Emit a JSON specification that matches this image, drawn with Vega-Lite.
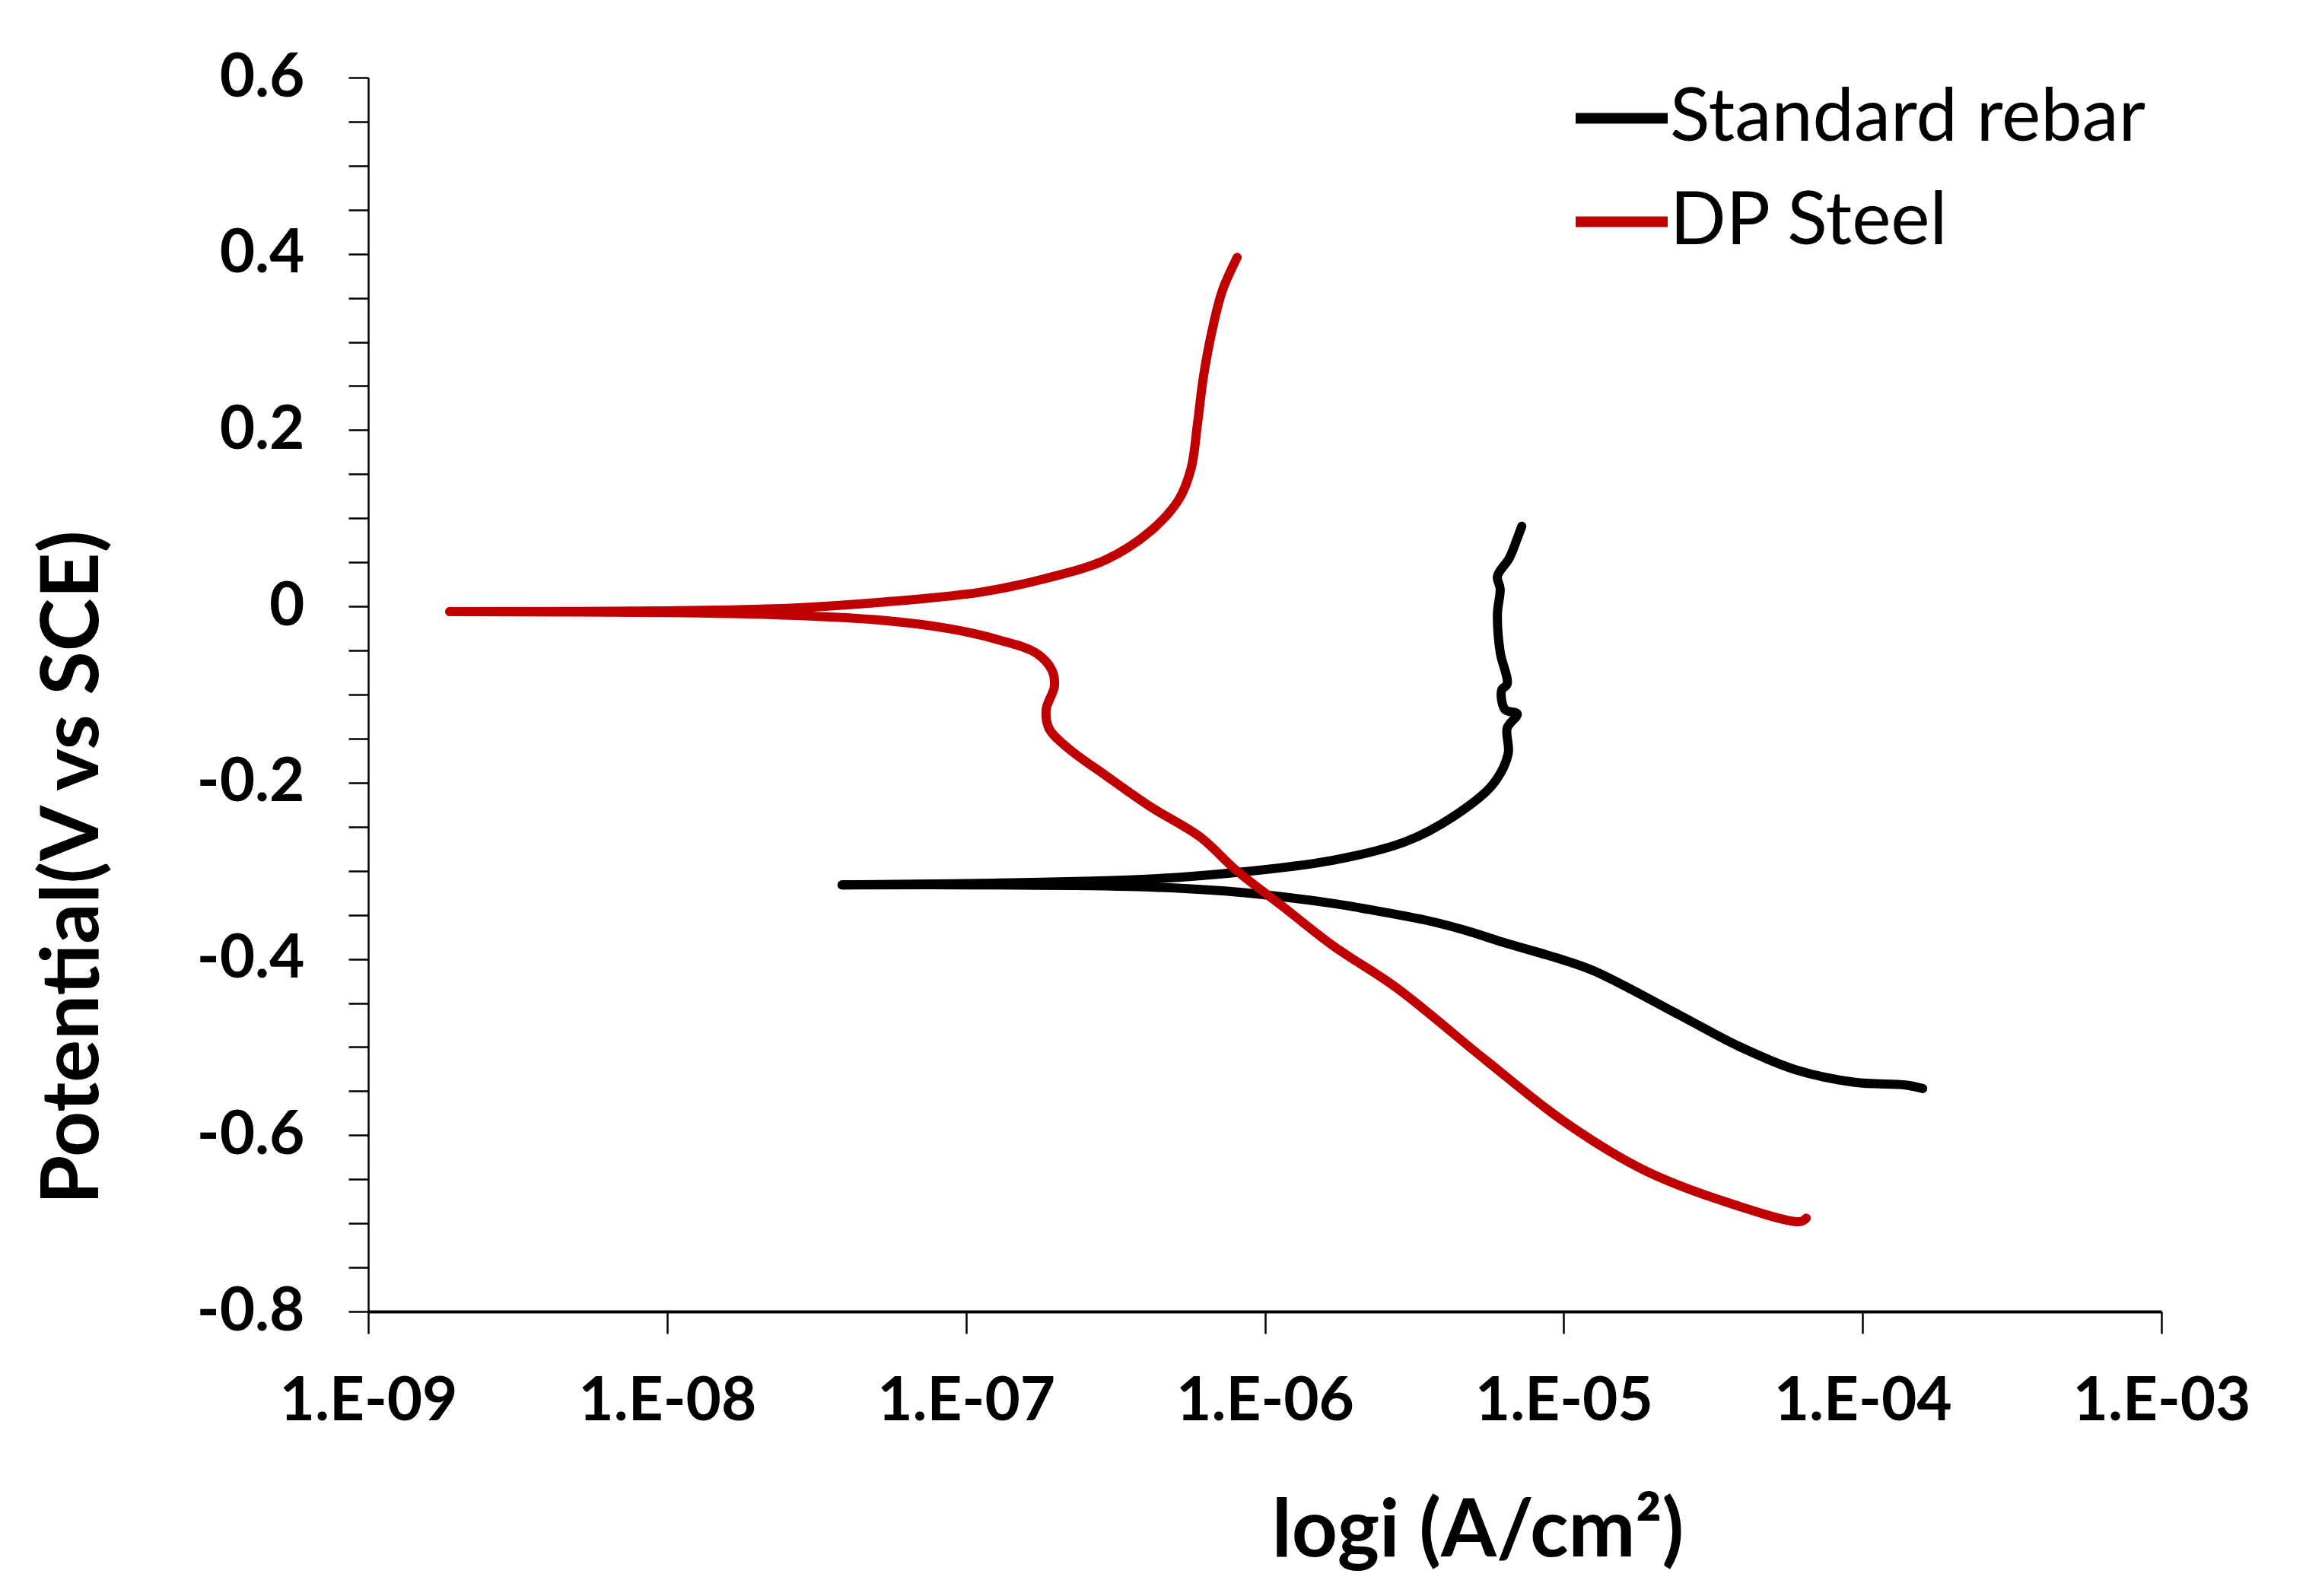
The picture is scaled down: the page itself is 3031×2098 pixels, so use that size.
{
  "$schema": "https://vega.github.io/schema/vega-lite/v6.json",
  "autosize": {"type": "none"},
  "padding": {"left": 484, "top": 102, "right": 190, "bottom": 374},
  "width": 2357,
  "height": 1622,
  "background": "white",
  "config": {
    "font": "Lato",
    "view": {"stroke": null},
    "axis": {"grid": false, "domainColor": "#000000", "tickColor": "#000000", "labelColor": "#000000", "titleColor": "#000000"}
  },
  "data": {"values": [
    {"s": "Standard rebar", "b": "c", "o": 1, "i": 1.589e-4, "E": -0.547},
    {"s": "Standard rebar", "b": "c", "o": 2, "i": 1.390e-4, "E": -0.543},
    {"s": "Standard rebar", "b": "c", "o": 3, "i": 9.42e-5, "E": -0.540},
    {"s": "Standard rebar", "b": "c", "o": 4, "i": 6.00e-5, "E": -0.526},
    {"s": "Standard rebar", "b": "c", "o": 5, "i": 3.85e-5, "E": -0.499},
    {"s": "Standard rebar", "b": "c", "o": 6, "i": 2.45e-5, "E": -0.464},
    {"s": "Standard rebar", "b": "c", "o": 7, "i": 1.27e-5, "E": -0.414},
    {"s": "Standard rebar", "b": "c", "o": 8, "i": 9.71e-6, "E": -0.400},
    {"s": "Standard rebar", "b": "c", "o": 9, "i": 6.25e-6, "E": -0.381},
    {"s": "Standard rebar", "b": "c", "o": 10, "i": 4.74e-6, "E": -0.368},
    {"s": "Standard rebar", "b": "c", "o": 11, "i": 3.56e-6, "E": -0.357},
    {"s": "Standard rebar", "b": "c", "o": 12, "i": 2.24e-6, "E": -0.344},
    {"s": "Standard rebar", "b": "c", "o": 13, "i": 1.69e-6, "E": -0.337},
    {"s": "Standard rebar", "b": "c", "o": 14, "i": 7.99e-7, "E": -0.324},
    {"s": "Standard rebar", "b": "c", "o": 15, "i": 3.77e-7, "E": -0.318},
    {"s": "Standard rebar", "b": "c", "o": 16, "i": 1.232e-7, "E": -0.316},
    {"s": "Standard rebar", "b": "c", "o": 17, "i": 3.85e-8, "E": -0.316},
    {"s": "Standard rebar", "b": "a", "o": 17, "i": 3.85e-8, "E": -0.316},
    {"s": "Standard rebar", "b": "a", "o": 18, "i": 1.232e-7, "E": -0.314},
    {"s": "Standard rebar", "b": "a", "o": 19, "i": 3.77e-7, "E": -0.310},
    {"s": "Standard rebar", "b": "a", "o": 20, "i": 7.99e-7, "E": -0.302},
    {"s": "Standard rebar", "b": "a", "o": 21, "i": 1.69e-6, "E": -0.288},
    {"s": "Standard rebar", "b": "a", "o": 22, "i": 2.95e-6, "E": -0.267},
    {"s": "Standard rebar", "b": "a", "o": 23, "i": 4.29e-6, "E": -0.238},
    {"s": "Standard rebar", "b": "a", "o": 24, "i": 5.79e-6, "E": -0.202},
    {"s": "Standard rebar", "b": "a", "o": 25, "i": 6.52e-6, "E": -0.167},
    {"s": "Standard rebar", "b": "a", "o": 26, "i": 6.47e-6, "E": -0.138},
    {"s": "Standard rebar", "b": "a", "o": 27, "i": 6.99e-6, "E": -0.122},
    {"s": "Standard rebar", "b": "a", "o": 28, "i": 6.36e-6, "E": -0.117},
    {"s": "Standard rebar", "b": "a", "o": 29, "i": 6.20e-6, "E": -0.095},
    {"s": "Standard rebar", "b": "a", "o": 30, "i": 6.47e-6, "E": -0.088},
    {"s": "Standard rebar", "b": "a", "o": 31, "i": 6.13e-6, "E": -0.052},
    {"s": "Standard rebar", "b": "a", "o": 32, "i": 6.00e-6, "E": -0.009},
    {"s": "Standard rebar", "b": "a", "o": 33, "i": 6.13e-6, "E": 0.020},
    {"s": "Standard rebar", "b": "a", "o": 34, "i": 6.00e-6, "E": 0.034},
    {"s": "Standard rebar", "b": "a", "o": 35, "i": 6.58e-6, "E": 0.055},
    {"s": "Standard rebar", "b": "a", "o": 36, "i": 6.99e-6, "E": 0.077},
    {"s": "Standard rebar", "b": "a", "o": 37, "i": 7.24e-6, "E": 0.091},
    {"s": "DP Steel", "b": "c", "o": 1, "i": 6.48e-5, "E": -0.694},
    {"s": "DP Steel", "b": "c", "o": 2, "i": 6.18e-5, "E": -0.698},
    {"s": "DP Steel", "b": "c", "o": 3, "i": 3.30e-5, "E": -0.673},
    {"s": "DP Steel", "b": "c", "o": 4, "i": 1.818e-5, "E": -0.638},
    {"s": "DP Steel", "b": "c", "o": 5, "i": 9.98e-6, "E": -0.584},
    {"s": "DP Steel", "b": "c", "o": 6, "i": 5.49e-6, "E": -0.515},
    {"s": "DP Steel", "b": "c", "o": 7, "i": 2.74e-6, "E": -0.432},
    {"s": "DP Steel", "b": "c", "o": 8, "i": 1.69e-6, "E": -0.385},
    {"s": "DP Steel", "b": "c", "o": 9, "i": 1.163e-6, "E": -0.342},
    {"s": "DP Steel", "b": "c", "o": 10, "i": 7.99e-7, "E": -0.299},
    {"s": "DP Steel", "b": "c", "o": 11, "i": 6.10e-7, "E": -0.262},
    {"s": "DP Steel", "b": "c", "o": 12, "i": 4.13e-7, "E": -0.227},
    {"s": "DP Steel", "b": "c", "o": 13, "i": 2.94e-7, "E": -0.192},
    {"s": "DP Steel", "b": "c", "o": 14, "i": 2.20e-7, "E": -0.161},
    {"s": "DP Steel", "b": "c", "o": 15, "i": 1.90e-7, "E": -0.139},
    {"s": "DP Steel", "b": "c", "o": 16, "i": 1.855e-7, "E": -0.117},
    {"s": "DP Steel", "b": "c", "o": 17, "i": 1.975e-7, "E": -0.091},
    {"s": "DP Steel", "b": "c", "o": 18, "i": 1.943e-7, "E": -0.073},
    {"s": "DP Steel", "b": "c", "o": 19, "i": 1.718e-7, "E": -0.053},
    {"s": "DP Steel", "b": "c", "o": 20, "i": 1.288e-7, "E": -0.038},
    {"s": "DP Steel", "b": "c", "o": 21, "i": 8.71e-8, "E": -0.025},
    {"s": "DP Steel", "b": "c", "o": 22, "i": 5.36e-8, "E": -0.016},
    {"s": "DP Steel", "b": "c", "o": 23, "i": 2.59e-8, "E": -0.010},
    {"s": "DP Steel", "b": "c", "o": 24, "i": 1.012e-8, "E": -0.007},
    {"s": "DP Steel", "b": "c", "o": 25, "i": 1.874e-9, "E": -0.006},
    {"s": "DP Steel", "b": "a", "o": 25, "i": 1.874e-9, "E": -0.006},
    {"s": "DP Steel", "b": "a", "o": 26, "i": 1.012e-8, "E": -0.005},
    {"s": "DP Steel", "b": "a", "o": 27, "i": 2.59e-8, "E": -0.002},
    {"s": "DP Steel", "b": "a", "o": 28, "i": 5.36e-8, "E": 0.005},
    {"s": "DP Steel", "b": "a", "o": 29, "i": 1.112e-7, "E": 0.016},
    {"s": "DP Steel", "b": "a", "o": 30, "i": 1.813e-7, "E": 0.031},
    {"s": "DP Steel", "b": "a", "o": 31, "i": 2.94e-7, "E": 0.053},
    {"s": "DP Steel", "b": "a", "o": 32, "i": 4.13e-7, "E": 0.085},
    {"s": "DP Steel", "b": "a", "o": 33, "i": 5.15e-7, "E": 0.121},
    {"s": "DP Steel", "b": "a", "o": 34, "i": 5.66e-7, "E": 0.156},
    {"s": "DP Steel", "b": "a", "o": 35, "i": 5.96e-7, "E": 0.209},
    {"s": "DP Steel", "b": "a", "o": 36, "i": 6.24e-7, "E": 0.262},
    {"s": "DP Steel", "b": "a", "o": 37, "i": 6.72e-7, "E": 0.319},
    {"s": "DP Steel", "b": "a", "o": 38, "i": 7.22e-7, "E": 0.359},
    {"s": "DP Steel", "b": "a", "o": 39, "i": 8.08e-7, "E": 0.396}
  ]},
  "mark": {"type": "line", "strokeWidth": 12, "strokeCap": "round", "strokeJoin": "round", "interpolate": "catmull-rom", "clip": false},
  "encoding": {
    "x": {
      "field": "i", "type": "quantitative",
      "scale": {"type": "log", "domain": [1e-9, 1e-3], "nice": false},
      "axis": {
        "values": [1e-9, 1e-8, 1e-7, 1e-6, 1e-5, 1e-4, 1e-3],
        "labelExpr": "'1.E-0' + round(-log(datum.value)/LN10)",
        "labelFontSize": 80, "labelFontWeight": "bold", "labelPadding": 50, "labelLimit": 1000,
        "labelFlush": false, "labelOverlap": false,
        "tickSize": 29, "tickWidth": 2.5, "domainWidth": 4,
        "title": "logi (A/cm²)", "titleFontSize": 105, "titleFontWeight": "bold",
        "titleX": 1458, "titleY": 321, "titleBaseline": "alphabetic", "titleAlign": "center", "titleAnchor": null
      }
    },
    "y": {
      "field": "E", "type": "quantitative",
      "scale": {"domain": [-0.8, 0.6], "nice": false, "zero": false},
      "axis": {
        "values": [-0.8, -0.75, -0.7, -0.65, -0.6, -0.55, -0.5, -0.45, -0.4, -0.35, -0.3, -0.25, -0.2, -0.15, -0.1, -0.05, 0, 0.05, 0.1, 0.15, 0.2, 0.25, 0.3, 0.35, 0.4, 0.45, 0.5, 0.55, 0.6],
        "labelExpr": "abs(datum.value*5 - round(datum.value*5)) < 0.01 ? (datum.value < -0.001 ? '-' : '') + format(abs(datum.value), '.1~f') : ''",
        "labelFontSize": 80, "labelFontWeight": "bold", "labelPadding": 58,
        "labelFlush": false, "labelOverlap": false,
        "tickSize": 26, "tickWidth": 2.5, "domainWidth": 2.5,
        "title": "Potential(V vs SCE)", "titleFontSize": 105, "titleFontWeight": "bold",
        "titleX": -388, "titleY": 1038, "titleAngle": -90, "titleAlign": "center", "titleBaseline": "middle", "titleAnchor": null
      }
    },
    "color": {
      "field": "s", "type": "nominal",
      "scale": {"domain": ["Standard rebar", "DP Steel"], "range": ["#000000", "#C00000"]},
      "legend": {
        "orient": "none", "legendX": 1580, "legendY": -14, "title": null, "padding": 0,
        "symbolType": "stroke", "symbolSize": 14641, "symbolStrokeWidth": 14,
        "labelFontSize": 97, "labelFont": "Lato", "labelColor": "#000000", "labelOffset": -4,
        "rowPadding": 20, "labelLimit": 1000
      }
    },
    "detail": {"field": "b", "type": "nominal"},
    "order": {"field": "o", "type": "quantitative"}
  }
}
